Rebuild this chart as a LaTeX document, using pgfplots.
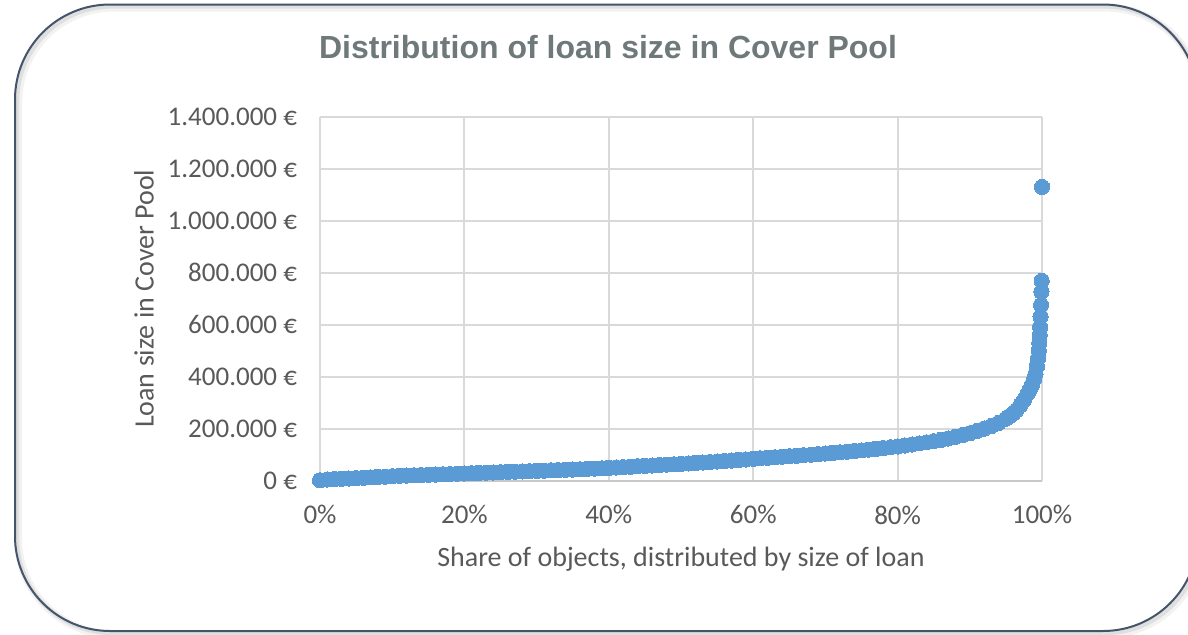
\documentclass[border=0pt]{standalone}
\usepackage{fontspec}
\setmainfont{Carlito}
\newfontfamily\titlefont{Liberation Sans}
\usepackage{pgfplots}
\pgfplotsset{compat=1.18}
\usepackage{pgfplotstable}

\definecolor{framecol}{RGB}{68,84,106}
\definecolor{titlecol}{RGB}{111,121,121}
\definecolor{labelcol}{RGB}{89,89,89}
\definecolor{gridcol}{RGB}{217,217,217}
\definecolor{axiscol}{RGB}{200,200,200}
\definecolor{dotcol}{RGB}{91,155,213}

% loan size (thousand EUR) against share of objects (%), sorted by size
\pgfplotstableread{
x y
0 1
1 4
2 5.5
3 6.5
4 7.5
5 9
6 10.5
7 12
8 13.5
9 15
10 16.5
11 18
12 19
13 20
14 21
15 22
16 23
17 24
18 25
19 26
20 27
21 28
22 29
23 30
24 31
25 32
26 33
27 34
28 35
29 36
30 37
31 38
32 39
33 40
34 41
35 42.2
36 43.4
37 44.6
38 45.8
39 47
40 48.5
41 50
42 51.5
43 53
44 55
45 56.5
46 58
47 59.5
48 61
49 62.5
50 64
51 65.8
52 67.6
53 69.4
54 71.2
55 73
56 75
57 77
58 79
59 81
60 83.5
61 85.5
62 87.5
63 89.5
64 91.5
65 93.5
66 95.5
67 97.5
68 99.5
69 101.5
70 104
71 106
72 108.5
73 111
74 113.5
75 116
76 119
77 122
78 125
79 128
80 131
81 135
82 139
83 143
84 147
85 151.5
86 156.5
87 162
88 168
89 175
90 182
91 191
92 200
93 210
94 222
95 238
95.5 248
96 258
96.5 272
97 290
97.5 310
98 335
98.3 350
98.6 368
98.9 390
99.1 410
99.3 440
99.45 470
99.55 500
99.62 530
99.68 560
99.73 590
99.8 631
99.86 676
99.92 727
99.96 769
100 1131
}\loandata

\begin{document}
\begin{tikzpicture}
\useasboundingbox (0,0) rectangle (594pt,317pt);
\clip (0,0) rectangle (594pt,317pt);

% soft shadow of the frame
\draw[rounded corners=47.5pt, line width=4pt, black, opacity=0.05]
  (9.1pt,-0.1pt) rectangle (600.6pt,313.2pt);
\draw[rounded corners=47.5pt, line width=2pt, black, opacity=0.08]
  (8.6pt,0.4pt) rectangle (600.1pt,313.7pt);
% frame
\draw[rounded corners=47.5pt, line width=1pt, framecol]
  (7.5pt,1.5pt) rectangle (599pt,314.75pt);

% chart title
\node[font=\titlefont\bfseries\fontsize{16}{18}\selectfont, text=titlecol]
  at (304pt,293.5pt) {Distribution of loan size in Cover Pool};

\begin{axis}[
  at={(160pt,76.75pt)}, anchor=south west,
  scale only axis, width=361pt, height=181.75pt,
  xmin=0, xmax=100, ymin=0, ymax=1400,
  clip=false,
  axis line style={draw=none},
  major tick length=0pt,
  grid=major,
  grid style={gridcol, line width=1pt},
  extra y ticks={0},
  extra y tick labels={},
  extra y tick style={grid style={axiscol, line width=1pt}},
  xtick={0,20,40,60,80,100},
  xticklabels={0\%,20\%,40\%,60\%,80\%,100\%},
  ytick={0,200,400,600,800,1000,1200,1400},
  yticklabels={0 €,200.000 €,400.000 €,600.000 €,800.000 €,1.000.000 €,1.200.000 €,1.400.000 €},
  ticklabel style={font=\fontsize{13.5}{15}\selectfont, text=labelcol},
  xticklabel style={yshift=-9pt},
  yticklabel style={xshift=-8pt},
  xlabel={Share of objects, distributed by size of loan},
  ylabel={Loan size in Cover Pool},
  label style={font=\fontsize{14}{16}\selectfont, text=labelcol},
  xlabel style={at={(axis description cs:0.5,-0.2155)}, anchor=center},
  ylabel style={at={(axis description cs:-0.2438,0.5)}, anchor=center, rotate=0},
]
\addplot[only marks, mark=*, mark size=3.8pt,
  mark options={fill=dotcol, draw=dotcol, line width=0pt}]
  table[x=x, y=y] {\loandata};
\end{axis}
\end{tikzpicture}
\end{document}
